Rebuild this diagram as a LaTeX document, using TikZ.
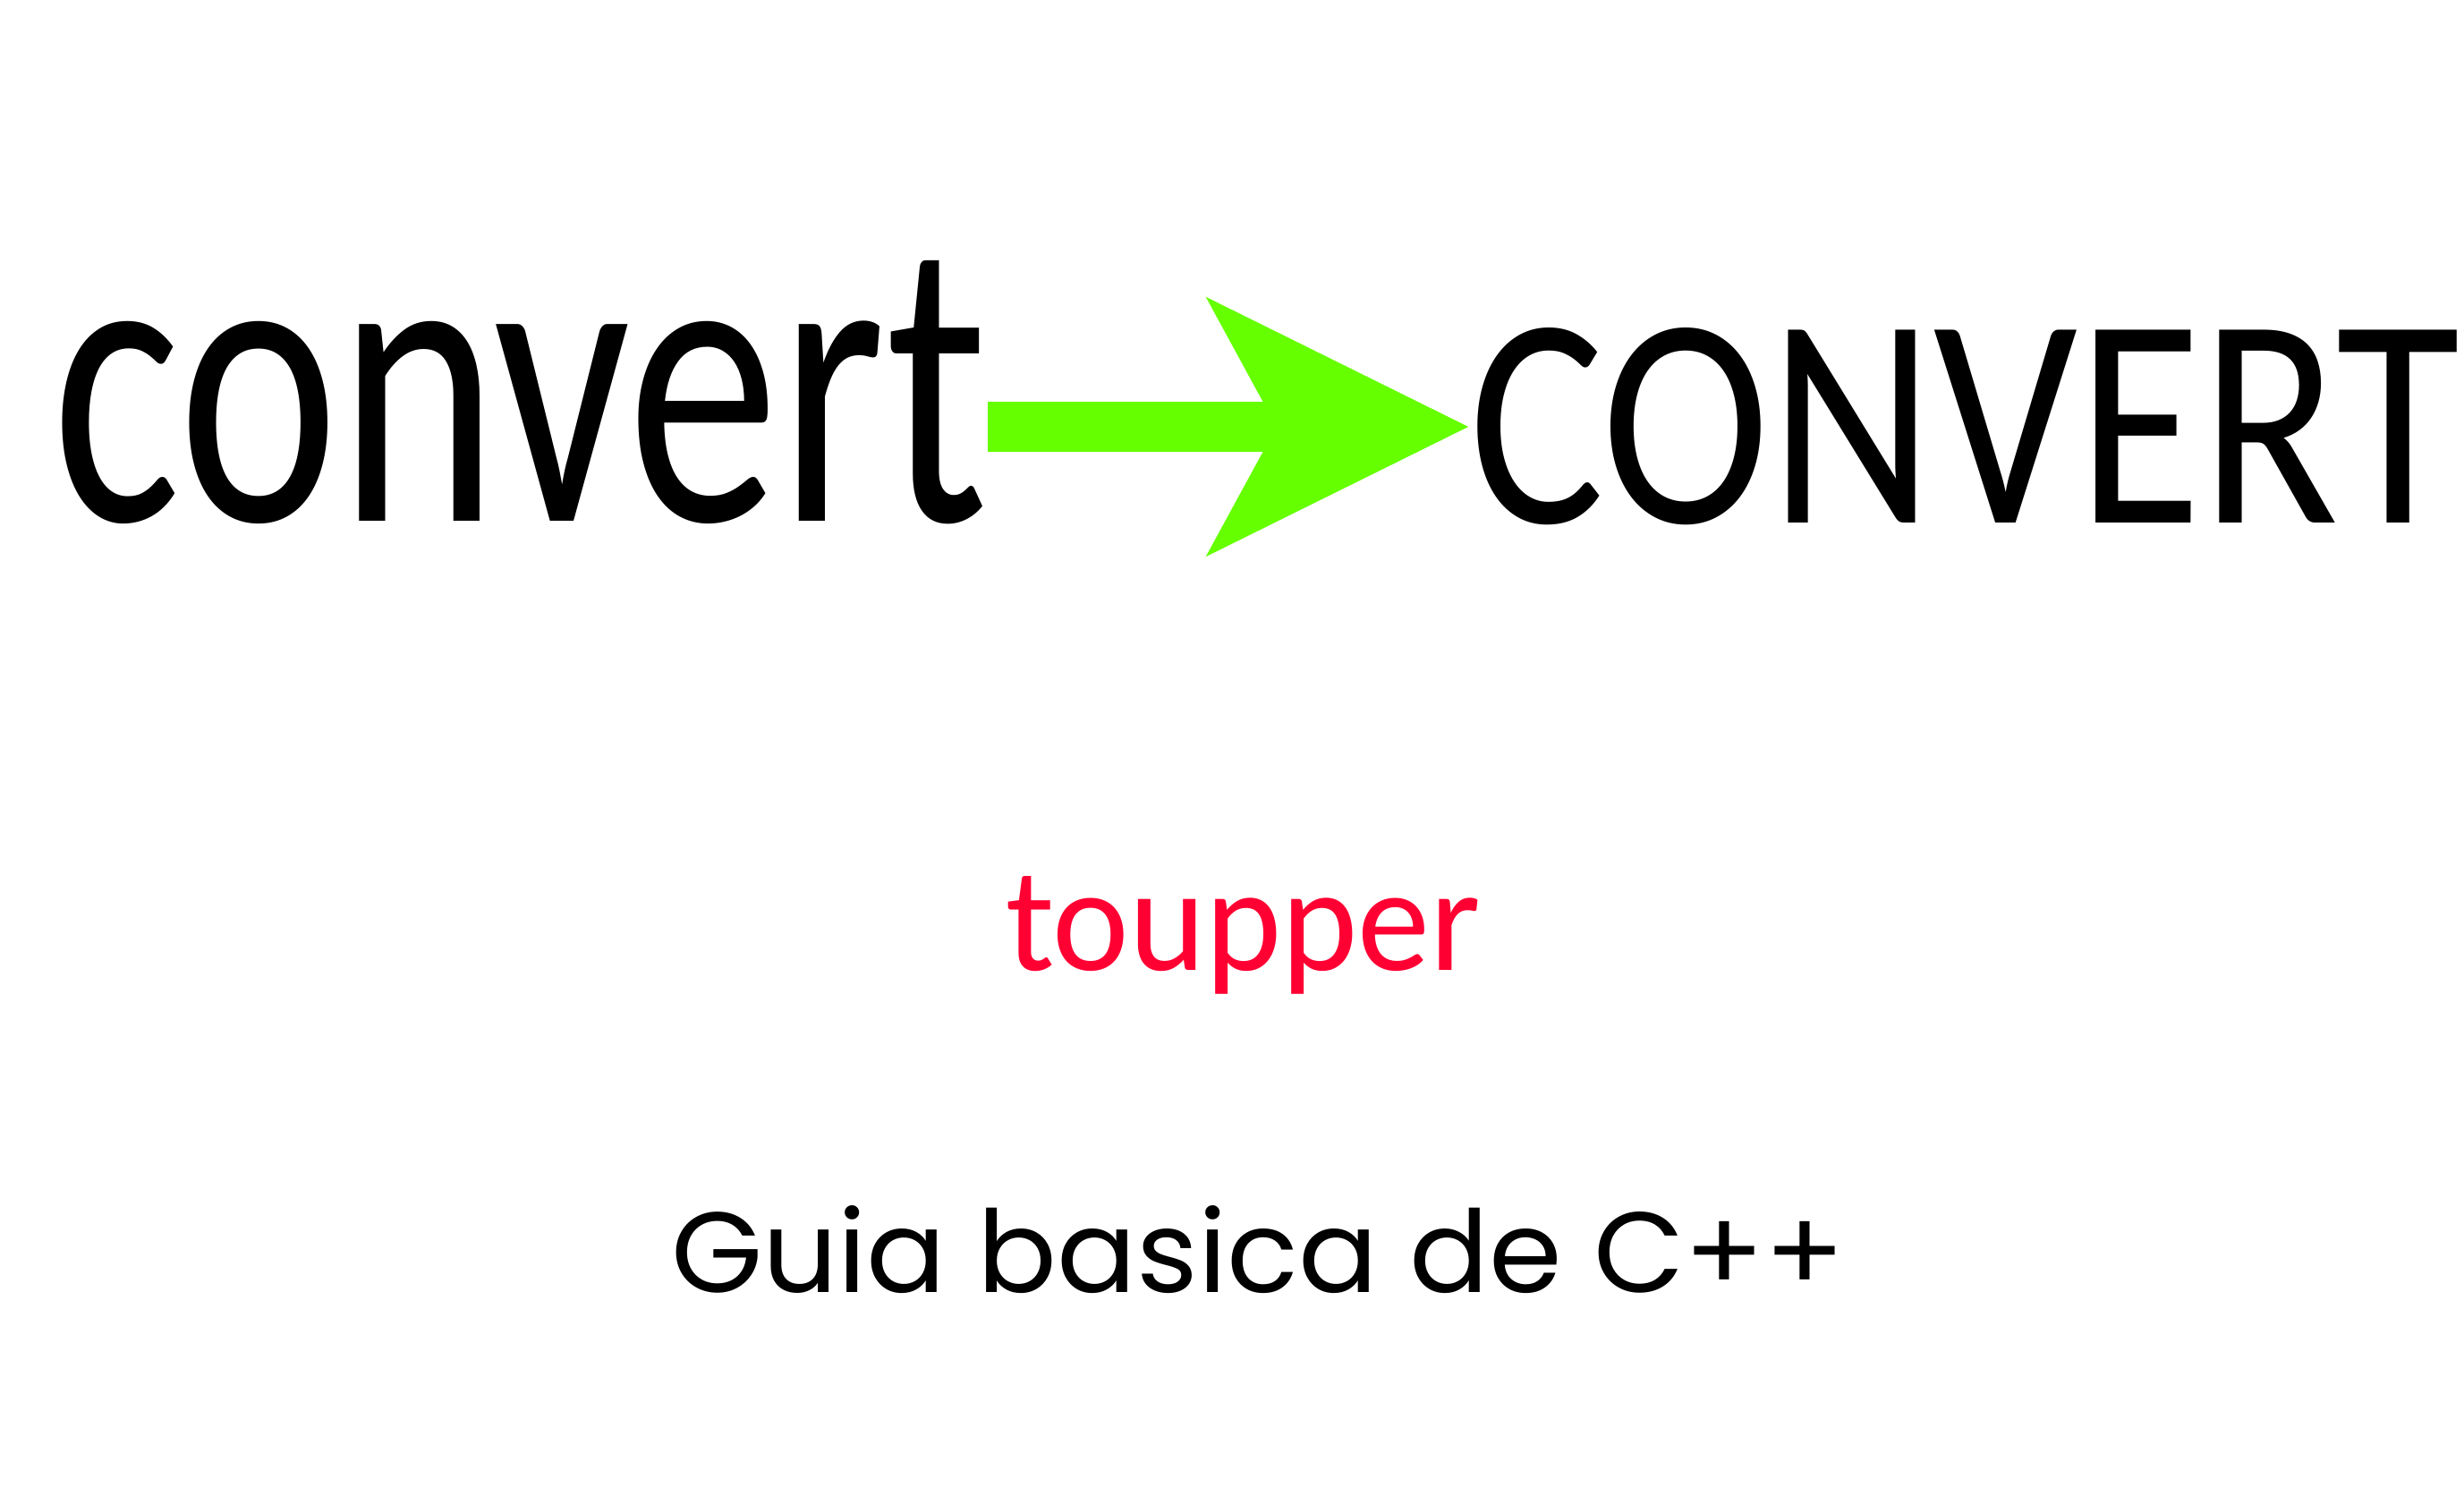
\documentclass[tikz,border=0pt]{standalone}
\usepackage{fontspec}
\usepackage{graphicx}
\usetikzlibrary{arrows.meta}
\newfontfamily\calib{Carlito}
\newfontfamily\gothic{Poppins}
\definecolor{verdeflecha}{RGB}{102,255,0}
\definecolor{rojotxt}{RGB}{255,0,51}
\tikzset{
    palabra/.style={inner sep=0pt, outer sep=0pt, anchor=base west},
    flecha/.style={line width=0.56cm, verdeflecha,
        -{Stealth[length=2.89cm, width=2.81cm, inset=0.74cm]}}
}
\begin{document}
\begin{tikzpicture}
    % Fondo y margenes
    \fill[white] (0,0) rectangle (27.54,16.71);
    \useasboundingbox (0,0) rectangle (27.54,16.71);

    % Palabra original
    \node[palabra] (orig) at (0.58,10.88) {\resizebox{10.45cm}{2.91cm}{\calib convert}};

    % Palabra convertida
    \node[palabra] (conv) at (16.42,10.86) {\resizebox{11.07cm}{2.18cm}{\calib CONVERT}};

    % Flecha verde
    \draw[flecha] (orig.east |- 0,11.94) -- (conv.west |- 0,11.94);

    % Funcion
    \node[palabra, text=rojotxt] (func) at (11.24,5.86) {\resizebox{5.31cm}{1.05cm}{\calib toupper}};

    % Titulo
    \node[palabra] (titulo) at (7.50,2.27) {\resizebox{13.12cm}{0.97cm}{\gothic Guia basica de C++}};
\end{tikzpicture}
\end{document}
